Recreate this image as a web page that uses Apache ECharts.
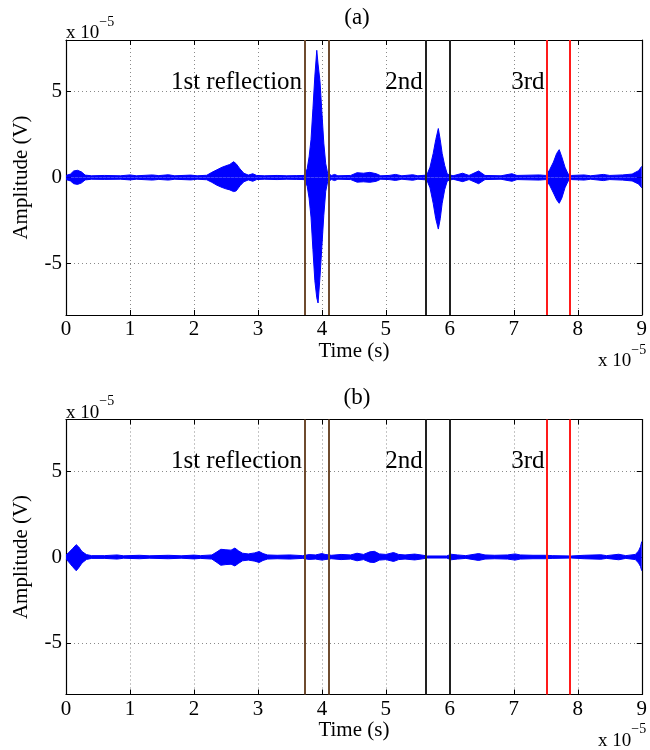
<!DOCTYPE html>
<html><head><meta charset="utf-8">
<script src="https://cdn.jsdelivr.net/npm/echarts@6/dist/echarts.min.js"></script>
<style>html,body{margin:0;padding:0;background:#fff}#c{width:650px;height:750px}</style>
</head><body><div id="c"></div>
<script>
// ---- data (time in 1e-5 s, amplitude in 1e-5 V) ----
const xTicks = [0,1,2,3,4,5,6,7,8,9];
const yTicks = [-5,0,5];
const markerTimes = [3.73, 4.11, 5.63, 6.0, 7.51, 7.88];
const markerColors = ['#6e4b2f','#6e4b2f','#222222','#222222','#ff1a1a','#ff1a1a'];
const labelTexts = ['1st reflection','2nd','3rd'];
const labelX = [1.64, 4.99, 6.96];
const labelY = [5.55, 5.55, 5.55];
const panelTitles = ['(a)','(b)'];

const timeA = [0.00,0.07,0.12,0.18,0.24,0.30,0.40,0.60,0.85,1.00,1.10,1.35,1.45,1.60,1.70,1.95,2.05,2.20,2.28,2.36,2.44,2.50,2.56,2.62,2.66,2.72,2.78,2.85,2.92,2.98,3.10,3.30,3.45,3.60,3.72,3.77,3.80,3.83,3.86,3.89,3.92,3.94,3.97,4.00,4.03,4.06,4.09,4.15,4.20,4.25,4.45,4.55,4.65,4.75,4.85,4.92,5.05,5.15,5.25,5.42,5.50,5.64,5.69,5.74,5.78,5.82,5.85,5.88,5.92,5.96,6.05,6.20,6.30,6.45,6.55,6.80,6.97,7.05,7.40,7.50,7.56,7.62,7.67,7.71,7.75,7.80,7.85,7.90,8.10,8.20,8.40,8.50,8.70,8.85,8.95,9.00];
const upperA = [0.12,0.20,0.38,0.42,0.33,0.14,0.10,0.12,0.10,0.15,0.10,0.15,0.11,0.16,0.10,0.14,0.10,0.13,0.30,0.45,0.60,0.68,0.76,0.92,0.80,0.50,0.25,0.14,0.22,0.12,0.10,0.12,0.10,0.11,0.12,0.50,1.20,2.20,4.00,5.90,7.40,6.60,5.60,3.80,2.00,0.80,0.25,0.12,0.18,0.10,0.12,0.28,0.25,0.30,0.22,0.10,0.12,0.18,0.10,0.16,0.10,0.14,0.60,1.40,2.20,2.85,2.20,1.40,0.70,0.20,0.10,0.25,0.12,0.38,0.12,0.10,0.22,0.12,0.15,0.12,0.45,0.90,1.40,1.62,1.20,0.60,0.20,0.12,0.15,0.10,0.18,0.12,0.15,0.20,0.40,0.65];
const lowerA = [-0.12,-0.20,-0.36,-0.40,-0.32,-0.14,-0.10,-0.11,-0.10,-0.14,-0.10,-0.15,-0.11,-0.15,-0.10,-0.14,-0.10,-0.13,-0.28,-0.45,-0.58,-0.66,-0.72,-0.82,-0.78,-0.48,-0.25,-0.14,-0.22,-0.12,-0.10,-0.12,-0.10,-0.11,-0.12,-0.50,-1.20,-2.30,-4.20,-6.00,-7.00,-7.30,-5.80,-4.00,-2.20,-0.80,-0.25,-0.12,-0.18,-0.10,-0.12,-0.27,-0.25,-0.28,-0.22,-0.10,-0.12,-0.17,-0.10,-0.16,-0.10,-0.14,-0.60,-1.50,-2.40,-3.00,-2.40,-1.50,-0.70,-0.20,-0.10,-0.24,-0.12,-0.36,-0.12,-0.10,-0.22,-0.12,-0.15,-0.12,-0.45,-0.90,-1.30,-1.50,-1.20,-0.60,-0.20,-0.12,-0.15,-0.10,-0.18,-0.12,-0.15,-0.20,-0.38,-0.60];

const timeB = [0.00,0.04,0.10,0.16,0.20,0.25,0.32,0.40,0.60,0.80,0.90,1.15,1.30,1.60,1.80,2.00,2.10,2.28,2.36,2.42,2.50,2.58,2.64,2.70,2.76,2.85,2.95,3.02,3.08,3.15,3.30,3.50,3.70,3.80,3.90,4.00,4.05,4.15,4.30,4.45,4.55,4.65,4.75,4.82,4.90,5.00,5.12,5.20,5.30,5.45,5.55,5.65,5.95,6.02,6.12,6.25,6.45,6.55,6.70,6.90,7.02,7.10,7.30,7.50,7.53,7.60,7.90,8.10,8.36,8.45,8.64,8.75,8.90,8.95,8.98,9.00];
const upperB = [0.12,0.25,0.48,0.72,0.58,0.32,0.14,0.08,0.08,0.12,0.07,0.10,0.07,0.10,0.07,0.11,0.08,0.12,0.30,0.45,0.42,0.40,0.52,0.35,0.22,0.18,0.24,0.32,0.20,0.12,0.10,0.12,0.08,0.14,0.12,0.20,0.15,0.10,0.15,0.12,0.22,0.15,0.30,0.33,0.18,0.15,0.26,0.15,0.12,0.17,0.12,0.06,0.06,0.16,0.12,0.08,0.20,0.12,0.10,0.12,0.18,0.12,0.10,0.10,0.14,0.08,0.06,0.10,0.13,0.08,0.16,0.08,0.15,0.35,0.60,0.90];
const lowerB = [-0.12,-0.28,-0.55,-0.80,-0.62,-0.35,-0.14,-0.08,-0.08,-0.12,-0.07,-0.10,-0.07,-0.10,-0.07,-0.11,-0.08,-0.12,-0.32,-0.48,-0.44,-0.42,-0.52,-0.36,-0.22,-0.18,-0.24,-0.32,-0.20,-0.12,-0.10,-0.12,-0.08,-0.14,-0.12,-0.18,-0.15,-0.10,-0.15,-0.12,-0.22,-0.15,-0.30,-0.32,-0.18,-0.15,-0.26,-0.15,-0.12,-0.17,-0.12,-0.06,-0.06,-0.16,-0.12,-0.08,-0.20,-0.12,-0.10,-0.12,-0.18,-0.12,-0.10,-0.10,-0.14,-0.08,-0.06,-0.10,-0.13,-0.08,-0.16,-0.08,-0.15,-0.35,-0.55,-0.80];

// ---- chart ----
const FF = 'Liberation Serif';
const BLUE = '#0000ff';
const gridTops = [40, 419.5];
const GH = 275;
const panels = [[timeA, upperA, lowerA], [timeB, upperB, lowerB]];

const chart = echarts.init(document.getElementById('c'), null, {renderer: 'canvas'});
const grids = [], xAxes = [], yAxes = [], series = [], graphics = [];
const zip = (t, v) => t.map((x, i) => [x, v[i]]);

gridTops.forEach((top, g) => {
  grids.push({left: 66, top: top, width: 582, height: GH, show: false});
  const tickStyle = {inside: true, length: 5, lineStyle: {color: '#000', width: 1}};
  const lineStyle = {show: true, onZero: false, lineStyle: {color: '#000', width: 1.2}};
  xAxes.push({
    type: 'value', gridIndex: g, min: 0, max: 9, interval: 1, position: 'bottom',
    axisLine: lineStyle, axisTick: tickStyle,
    axisLabel: {fontFamily: FF, fontSize: 21, color: '#000', margin: 4,
      customValues: xTicks, showMaxLabel: true, showMinLabel: true},
    splitLine: {show: true, lineStyle: {color: '#8a8a8a', width: 1, type: [1, 3]}},
    name: 'Time (s)', nameLocation: 'middle', nameGap: 24,
    nameTextStyle: {fontFamily: FF, fontSize: 21, color: '#000'}
  });
  xAxes.push({
    type: 'value', gridIndex: g, min: 0, max: 9, interval: 1, position: 'top',
    axisLine: lineStyle, axisTick: tickStyle, axisLabel: {show: false}, splitLine: {show: false}
  });
  yAxes.push({
    type: 'value', gridIndex: g, min: -8, max: 8, position: 'left',
    axisLine: lineStyle,
    axisTick: Object.assign({customValues: yTicks}, tickStyle),
    axisLabel: {fontFamily: FF, fontSize: 21, color: '#000', margin: 4, customValues: yTicks},
    splitLine: {show: true, lineStyle: {color: '#8a8a8a', width: 1, type: [1, 3]}},
    name: 'Amplitude (V)', nameLocation: 'middle', nameGap: 34,
    nameTextStyle: {fontFamily: FF, fontSize: 21, color: '#000'}
  });
  yAxes.push({
    type: 'value', gridIndex: g, min: -8, max: 8, position: 'right',
    axisLine: lineStyle,
    axisTick: Object.assign({customValues: yTicks}, tickStyle),
    axisLabel: {show: false}, splitLine: {show: false}
  });
  const [t, up, lo] = panels[g];
  const common = {
    type: 'line', xAxisIndex: 2 * g, yAxisIndex: 2 * g, symbol: 'none', silent: true,
    lineStyle: {color: BLUE, width: 1}, itemStyle: {color: BLUE},
    areaStyle: {color: BLUE, opacity: 1, origin: 0}, animation: false, z: 2
  };
  series.push(Object.assign({}, common, {data: zip(t, up)}));
  series.push(Object.assign({}, common, {data: zip(t, lo)}));
  series.push({
    type: 'line', xAxisIndex: 2 * g, yAxisIndex: 2 * g, data: [], silent: true, z: 4,
    animation: false,
    markLine: {
      silent: true, symbol: 'none', animation: false, label: {show: false},
      data: markerTimes.map((v, i) => ({xAxis: v, lineStyle: {color: markerColors[i], width: 2, type: 'solid'}}))
    }
  });
  series.push({
    type: 'scatter', xAxisIndex: 2 * g, yAxisIndex: 2 * g, symbolSize: 0, silent: true, z: 5,
    animation: false, itemStyle: {opacity: 1, color: '#000'},
    data: labelX.map((x, i) => ({value: [x, labelY[i]], name: labelTexts[i]})),
    label: {show: true, position: 'right', distance: 0, formatter: p => p.name,
      fontFamily: FF, fontSize: 25, color: '#000', opacity: 1, textBorderWidth: 0},
    labelLayout: {hideOverlap: false}
  });
  const sci = {a: {fontFamily: FF, fontSize: 19, color: '#000', lineHeight: 28, verticalAlign: 'bottom'},
               b: {fontFamily: FF, fontSize: 14, color: '#000', lineHeight: 14, verticalAlign: 'top'}};
  graphics.push({type: 'text', x: 357, y: top - 22, silent: true,
    style: {text: panelTitles[g], fontFamily: FF, fontSize: 23, fill: '#000', textAlign: 'center', textVerticalAlign: 'middle'}});
  graphics.push({type: 'text', x: 66, y: top - 11, silent: true,
    style: {text: '{a|x 10}{b|−5}', rich: sci, textAlign: 'left', textVerticalAlign: 'middle'}});
  graphics.push({type: 'text', x: 598, y: top + GH + 42, silent: true,
    style: {text: '{a|x 10}{b|−5}', rich: sci, textAlign: 'left', textVerticalAlign: 'middle'}});
});

chart.setOption({
  animation: false,
  backgroundColor: '#fff',
  grid: grids, xAxis: xAxes, yAxis: yAxes, series: series, graphic: graphics
});
</script></body></html>
